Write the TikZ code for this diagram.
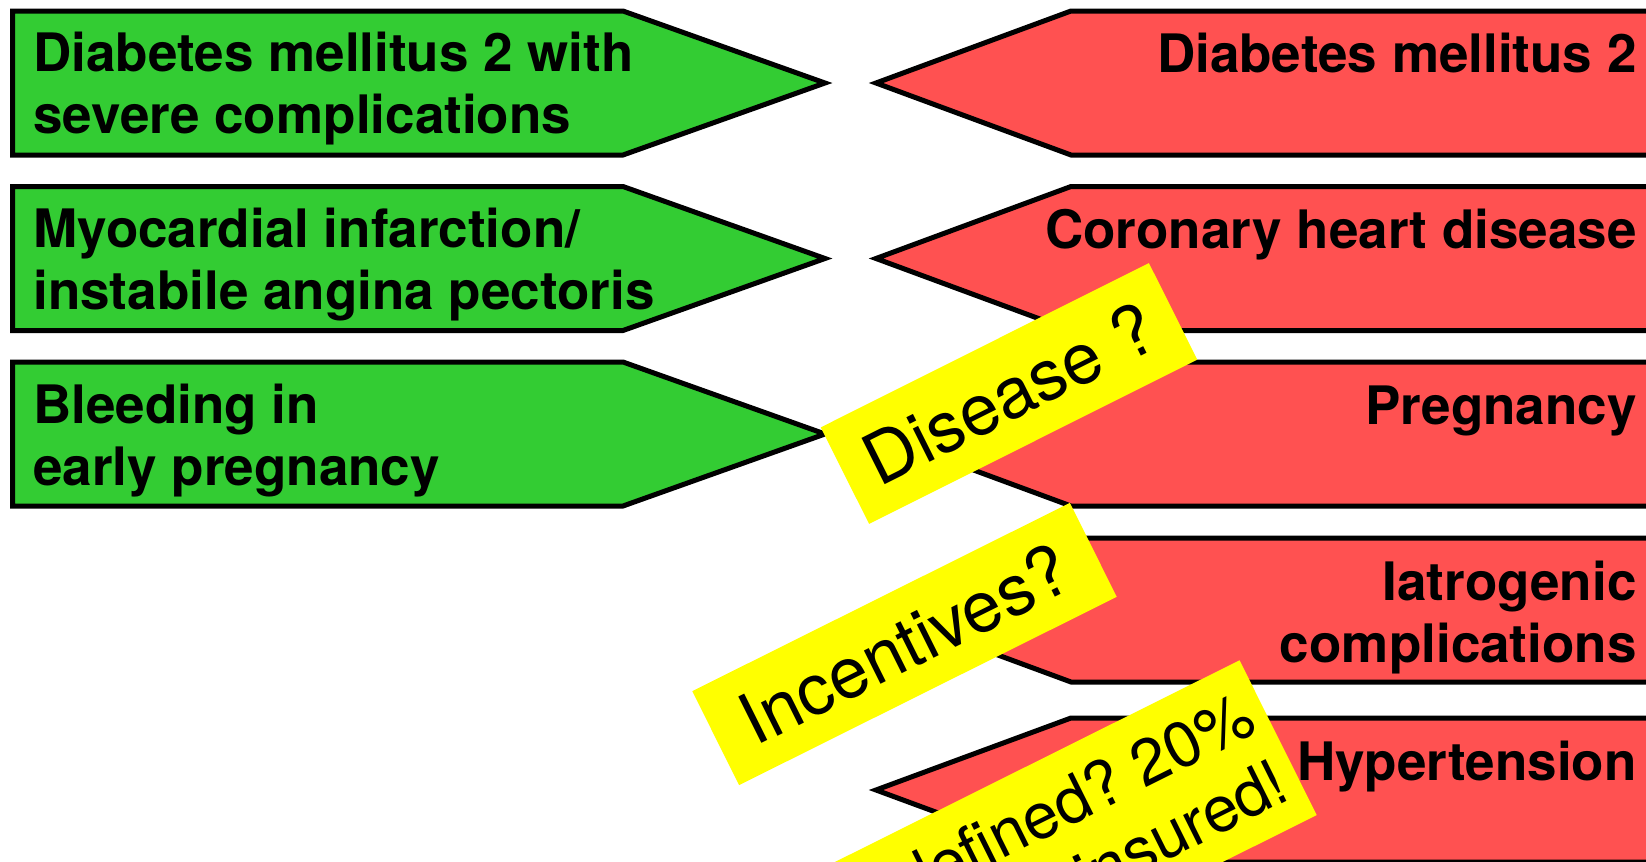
\documentclass[tikz,border=0pt]{standalone}
\usepackage{fontspec}
\setmainfont{TeX Gyre Heros}
\definecolor{cgreen}{HTML}{33CC33}
\definecolor{cred}{HTML}{FF5151}
\definecolor{cyel}{HTML}{FFFF00}

\begin{document}
\begin{tikzpicture}[x=0.5pt,y=-0.5pt,
  arr/.style={draw=black,line width=2.5pt,line join=miter},
  lbl/.style={font=\fontsize{26.5}{30.8}\selectfont\bfseries,inner sep=0pt},
  tag/.style={fill=cyel,font=\fontsize{35.5}{37}\selectfont,inner sep=0pt,align=center}]
  \useasboundingbox (0,0) rectangle (1646,862);
  \clip (0,0) rectangle (1646,862);
  \foreach \c in {83,258.5,434}
    \draw[arr,fill=cgreen] (12.5,\c-72) -- (623,\c-72) -- (825,\c) -- (623,\c+72) -- (12.5,\c+72) -- cycle;
  \foreach \c in {83,258.5,434,610,790}
    \draw[arr,fill=cred] (1700,\c-72) -- (1071,\c-72) -- (876,\c) -- (1071,\c+72) -- (1700,\c+72) -- cycle;
  \node[lbl,anchor=base west,align=left] (g1) at (33,133.5) {Diabetes mellitus 2 with\\severe complications};
  \node[lbl,anchor=base west,align=left] (g2) at (33,309) {Myocardial infarction/\\instabile angina pectoris};
  \node[lbl,anchor=base west,align=left] (g3) at (33,485) {Bleeding in\\early pregnancy};
  \node[lbl,anchor=base east] (r1) at (1637,72) {Diabetes mellitus 2};
  \node[lbl,anchor=base east] (r2) at (1637,248) {Coronary heart disease};
  \node[lbl,anchor=base east] (r3) at (1637,424) {Pregnancy};
  \node[lbl,anchor=base east,align=right] (r4) at (1637,662) {Iatrogenic\\complications};
  \node[lbl,anchor=base east] (r5) at (1637,780) {Hypertension};
  \node[tag,rotate=26.6,minimum width=183.5pt,minimum height=54pt] (t1) at (1009,393.5) {Disease ?};
  \node[tag,rotate=26.5,minimum width=211pt,minimum height=52.5pt] (t2) at (904.5,644) {Incentives?};
  \node[tag,rotate=26.5,anchor=east,minimum height=86.5pt,inner xsep=7pt,align=right,
    font=\fontsize{32}{37.3}\selectfont] (t3) at (1278.5,737.5) {Undefined?\ 20\%\\uninsured!};
\end{tikzpicture}
\end{document}
